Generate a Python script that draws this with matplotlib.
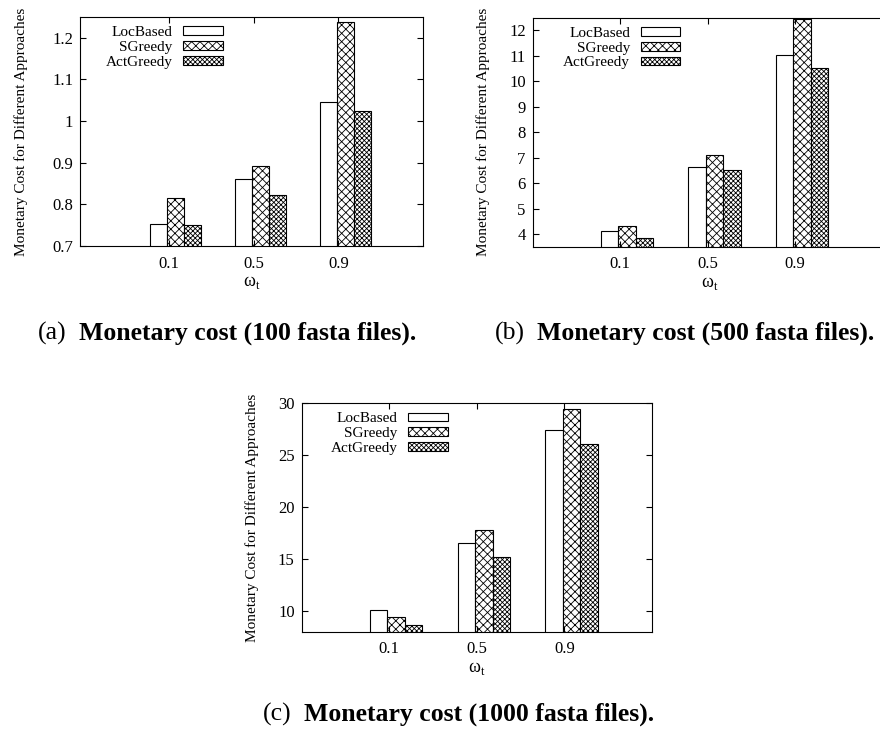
import matplotlib.pyplot as plt
import numpy as np

plt.rcParams['font.family'] = ['Liberation Serif', 'DejaVu Serif']
plt.rcParams['mathtext.fontset'] = 'custom'
plt.rcParams['mathtext.rm'] = 'Liberation Serif'
plt.rcParams['hatch.linewidth'] = 0.6

weights = ['0.1', '0.5', '0.9']
approaches = ['LocBased', 'SGreedy', 'ActGreedy']

cost_100 = [[0.752, 0.860, 1.046],
            [0.815, 0.892, 1.238],
            [0.750, 0.823, 1.024]]
cost_500 = [[4.13, 6.65, 11.02],
            [4.31, 7.11, 12.43],
            [3.84, 6.52, 10.54]]
cost_1000 = [[10.1, 16.55, 27.47],
             [9.45, 17.77, 29.46],
             [8.62, 15.17, 26.06]]

hatches = ['', 'xxxx', 'xxxxxxx']
ylabel = 'Monetary Cost for Different Approaches'


def draw(ax, data, ylim, yticks, xlim, pad):
    x = np.arange(len(weights))
    w = 0.2
    for j, name in enumerate(approaches):
        ax.bar(x + 0.08 + (j - 1) * w, data[j], w, bottom=0, facecolor='white',
               edgecolor='black', linewidth=0.8, hatch=hatches[j], label=name)
    ax.set_ylim(*ylim)
    ax.set_xlim(*xlim)
    ax.set_yticks(yticks)
    ax.set_xticks(x)
    ax.set_xticklabels(weights)
    ax.tick_params(direction='in', top=True, right=True, labelsize=12,
                   length=4, pad=5)
    ax.tick_params(axis='x', pad=7)
    ax.set_ylabel(ylabel, fontsize=11, labelpad=pad)
    ax.set_xlabel('ω$_{\\rm t}$', fontsize=13, labelpad=2)
    ax.legend(loc='upper right', bbox_to_anchor=(0.443, 1.0), frameon=False,
              markerfirst=False, fontsize=11, handlelength=2.6,
              handleheight=0.5, labelspacing=0.12, borderaxespad=0.2,
              handletextpad=0.7)


fig = plt.figure(figsize=(8.8, 7.45), dpi=100)

ax_a = fig.add_axes([0.0909, 0.6698, 0.3898, 0.3074])
draw(ax_a, cost_100, (0.7, 1.25), [0.7, 0.8, 0.9, 1.0, 1.1, 1.2], (-1.05, 3.0), 17)
ax_a.set_yticklabels(['0.7', '0.8', '0.9', '1', '1.1', '1.2'])

ax_b = fig.add_axes([0.6053, 0.6689, 0.4025, 0.3074])
draw(ax_b, cost_500, (3.5, 12.5), list(range(4, 13)), (-1.0, 3.05), 14)

ax_c = fig.add_axes([0.3428, 0.1521, 0.3980, 0.3066])
draw(ax_c, cost_1000, (8, 30), [10, 15, 20, 25, 30], (-1.0, 3.0), 14)

captions = [('(a)', 'Monetary cost (100 fasta files).', 38, 333),
            ('(b)', 'Monetary cost (500 fasta files).', 495, 333),
            ('(c)', 'Monetary cost (1000 fasta files).', 263, 714)]
renderer = fig.canvas.get_renderer()
for tag, body, px, py in captions:
    t = fig.text(px / 880, 1 - py / 745, tag, fontsize=18.5, va='center')
    bb = t.get_window_extent(renderer=renderer)
    fig.text((bb.x1 + 12) / 880, 1 - py / 745, body, fontsize=18.5,
             fontweight='bold', va='center')

fig.savefig('out.png', dpi=100)
